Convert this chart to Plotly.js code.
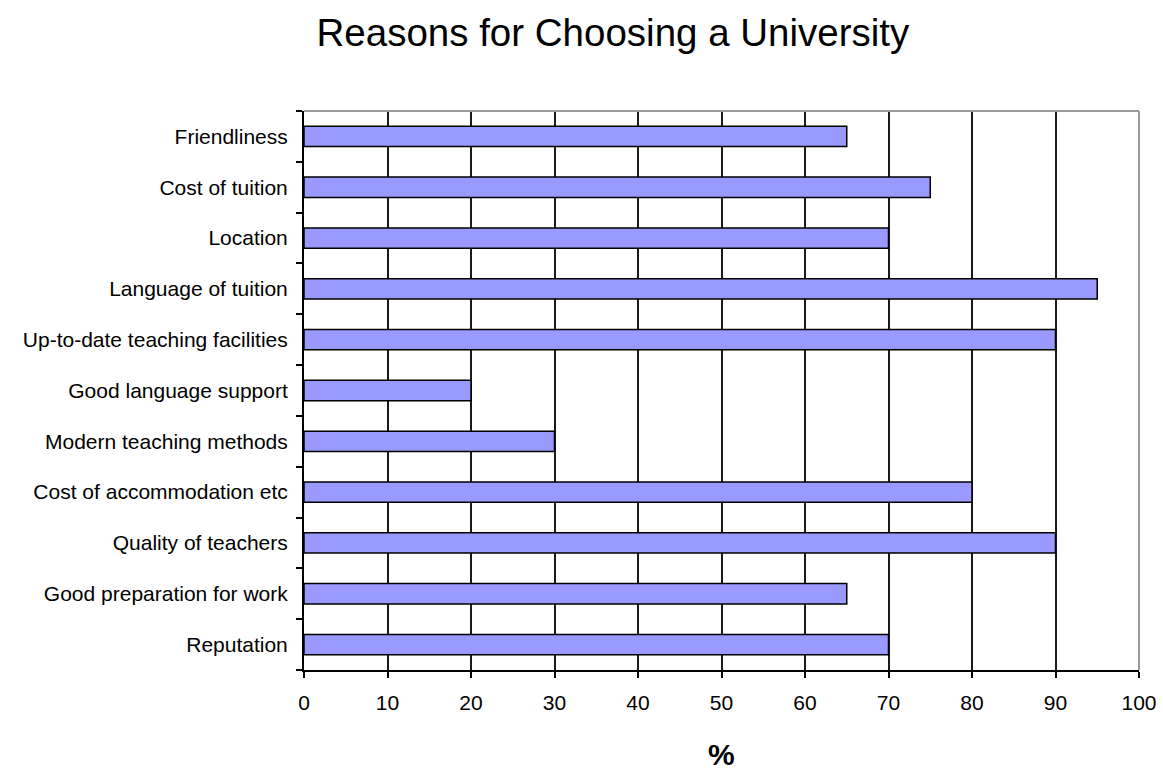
<!DOCTYPE html>
<html>
<head>
<meta charset="utf-8">
<script src="https://cdn.plot.ly/plotly-3.0.1.min.js"></script>
<style>html,body{margin:0;padding:0;background:#fff;}#chart{width:1163px;height:771px;}</style>
</head>
<body>
<div id="chart"></div>
<script>
// Categories listed bottom to top (as drawn on the y axis)
const categories = [
  "Reputation",
  "Good preparation for work",
  "Quality of teachers",
  "Cost of accommodation etc",
  "Modern teaching methods",
  "Good language support",
  "Up-to-date teaching facilities",
  "Language of tuition",
  "Location",
  "Cost of tuition",
  "Friendliness"
];
const percentValues = [70, 65, 90, 80, 30, 20, 90, 95, 70, 75, 65];
const xTickValues = [0, 10, 20, 30, 40, 50, 60, 70, 80, 90, 100];
const chartTitle = "Reasons for Choosing a University";
const xAxisTitle = "%";

const fontFamily = "Liberation Sans, Arial, sans-serif";

const trace = {
  type: "bar",
  orientation: "h",
  y: categories,
  x: percentValues,
  marker: { color: "#9999FF", line: { color: "#000000", width: 1.5 } },
  hoverinfo: "x+y"
};

const layout = {
  width: 1163,
  height: 771,
  paper_bgcolor: "#ffffff",
  plot_bgcolor: "#ffffff",
  margin: { l: 304, r: 24, t: 111, b: 101, pad: 0 },
  showlegend: false,
  bargap: 0.6,
  font: { family: fontFamily, color: "#000000", size: 21 },
  title: {
    text: chartTitle,
    font: { family: fontFamily, size: 38.5, color: "#000000" },
    xref: "container", x: 0.527, xanchor: "center",
    yref: "container", y: 0.958, yanchor: "middle"
  },
  xaxis: {
    range: [0, 100],
    tickmode: "array",
    tickvals: xTickValues,
    ticktext: xTickValues.map(String),
    showgrid: true,
    gridcolor: "#1a1a1a",
    gridwidth: 2,
    zeroline: false,
    showline: true,
    linecolor: "#000000",
    linewidth: 2,
    ticks: "outside",
    ticklen: 6,
    tickwidth: 2,
    tickcolor: "#000000",
    ticklabelstandoff: 7,
    tickfont: { family: fontFamily, size: 21, color: "#000000" },
    fixedrange: true
  },
  yaxis: {
    type: "category",
    categoryorder: "array",
    categoryarray: categories,
    range: [-0.5, categories.length - 0.5],
    tickson: "boundaries",
    ticks: "outside",
    ticklen: 6,
    tickwidth: 2,
    tickcolor: "#000000",
    showgrid: false,
    zeroline: false,
    showline: true,
    linecolor: "#000000",
    linewidth: 2,
    ticklabelstandoff: 10,
    tickfont: { family: fontFamily, size: 21, color: "#000000" },
    fixedrange: true
  },
  shapes: [
    { type: "line", xref: "paper", yref: "paper", x0: 0, x1: 1, y0: 1, y1: 1,
      line: { color: "#9a9a9a", width: 2 }, layer: "above" },
    { type: "line", xref: "paper", yref: "paper", x0: 1, x1: 1, y0: 0, y1: 1,
      line: { color: "#9a9a9a", width: 2 }, layer: "above" }
  ],
  annotations: [
    {
      text: "<b>" + xAxisTitle + "</b>",
      xref: "paper", yref: "paper",
      x: 0.5, y: -0.118, xanchor: "center", yanchor: "top",
      showarrow: false,
      font: { family: fontFamily, size: 30, color: "#000000" }
    }
  ]
};

Plotly.newPlot("chart", [trace], layout, { displayModeBar: false, staticPlot: true });
</script>
</body>
</html>
